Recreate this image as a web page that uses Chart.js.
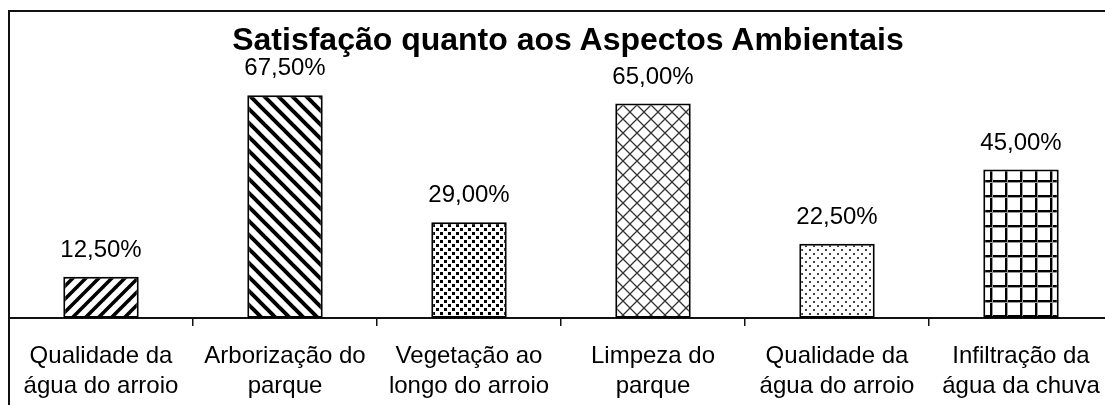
<!DOCTYPE html>
<html>
<head>
<meta charset="utf-8">
<script src="https://cdn.jsdelivr.net/npm/chart.js@4"></script>
<style>
  html, body { margin: 0; padding: 0; background: #fff; overflow: hidden; }
  #wrap { position: relative; width: 1105px; height: 405px; overflow: hidden; }
  #frame { position: absolute; left: 8px; top: 10px; right: -10px; bottom: -10px;
           border-top: 2px solid #111; border-left: 2px solid #111; }
  #title { position: absolute; left: 0; width: 1136px; top: 21px; line-height: 38px;
           text-align: center; color: #000;
           font: bold 32px 'Liberation Sans', Arial, sans-serif; }
  #chart { position: absolute; left: 0; top: 0; }
</style>
</head>
<body>
<div id="wrap">
  <div id="frame"></div>
  <canvas id="chart" width="1120" height="421"></canvas>
  <div id="title">Satisfação quanto aos Aspectos Ambientais</div>
</div>
<script>
const categories = [
  ['Qualidade da', 'água do arroio'],
  ['Arborização do', 'parque'],
  ['Vegetação ao', 'longo do arroio'],
  ['Limpeza do', 'parque'],
  ['Qualidade da', 'água do arroio'],
  ['Infiltração da', 'água da chuva']
];
const satisfaction = [12.5, 67.5, 29.0, 65.0, 22.5, 45.0];

const FONT = "'Liberation Sans', Arial, sans-serif";

const pct = (v) => v.toFixed(2).replace('.', ',') + '%';

// small tiles used as bar fills
function tile(w, h, draw) {
  const c = document.createElement('canvas');
  c.width = w;
  c.height = h;
  const g = c.getContext('2d');
  g.fillStyle = '#fff';
  g.fillRect(0, 0, w, h);
  draw(g, w, h);
  return c;
}

function diagonal(size, width, up) {
  return tile(size, size, (g, w, h) => {
    g.strokeStyle = '#000';
    g.lineWidth = width;
    for (let k = -1; k <= 1; k++) {
      g.beginPath();
      if (up) {
        g.moveTo(k * w - 2, h + 2);
        g.lineTo(k * w + w + 2, -2);
      } else {
        g.moveTo(k * w - 2, -2);
        g.lineTo(k * w + w + 2, h + 2);
      }
      g.stroke();
    }
  });
}

const fills = [
  diagonal(13, 3.5, true),
  diagonal(14, 4, false),
  tile(8, 8, (g) => {
    g.fillStyle = '#000';
    g.fillRect(0, 0, 3, 3);
    g.fillRect(4, 4, 3, 3);
  }),
  tile(14, 14, (g, w, h) => {
    g.strokeStyle = '#333';
    g.lineWidth = 1.3;
    for (let k = -1; k <= 1; k++) {
      g.beginPath();
      g.moveTo(k * w, h); g.lineTo(k * w + w, 0);
      g.moveTo(k * w, 0); g.lineTo(k * w + w, h);
      g.stroke();
    }
  }),
  tile(8, 8, (g) => {
    g.fillStyle = '#444';
    g.fillRect(1, 1, 2, 2);
    g.fillRect(5, 5, 2, 2);
  }),
  tile(15, 15, (g) => {
    g.fillStyle = '#000';
    g.fillRect(0, 0, 15, 2);
    g.fillRect(0, 0, 2, 15);
    g.fillStyle = '#999';
    g.fillRect(0, 2, 15, 1);
    g.fillRect(2, 0, 1, 15);
  })
];

const valueLabels = {
  id: 'valueLabels',
  afterDatasetsDraw(chart) {
    const ctx = chart.ctx;
    const meta = chart.getDatasetMeta(0);
    ctx.save();
    ctx.font = '24px ' + FONT;
    ctx.fillStyle = '#000';
    ctx.textAlign = 'center';
    ctx.textBaseline = 'alphabetic';
    meta.data.forEach((bar, i) => {
      ctx.fillText(pct(satisfaction[i]), bar.x, bar.y - 20);
    });
    ctx.restore();
  }
};

const ctx = document.getElementById('chart').getContext('2d');

new Chart(ctx, {
  type: 'bar',
  data: {
    labels: categories,
    datasets: [{
      data: satisfaction,
      backgroundColor: fills.map((c) => ctx.createPattern(c, 'repeat')),
      borderColor: '#000',
      borderWidth: 2,
      borderSkipped: false,
      categoryPercentage: 1,
      barPercentage: 0.41
    }]
  },
  options: {
    responsive: false,
    animation: false,
    layout: { padding: { left: 9, right: 7, top: 54, bottom: 5 } },
    plugins: {
      legend: { display: false },
      tooltip: { enabled: false },
      title: { display: false }
    },
    scales: {
      x: {
        grid: {
          offset: true,
          drawOnChartArea: false,
          drawTicks: true,
          tickLength: 8,
          color: '#111',
          lineWidth: 1.5
        },
        border: { color: '#111', width: 2 },
        ticks: {
          color: '#000',
          font: { family: FONT, size: 24, lineHeight: 1.25 },
          padding: 15,
          maxRotation: 0,
          autoSkip: false
        }
      },
      y: { display: false, min: 0, max: 80 }
    }
  },
  plugins: [valueLabels]
});
</script>
</body>
</html>
